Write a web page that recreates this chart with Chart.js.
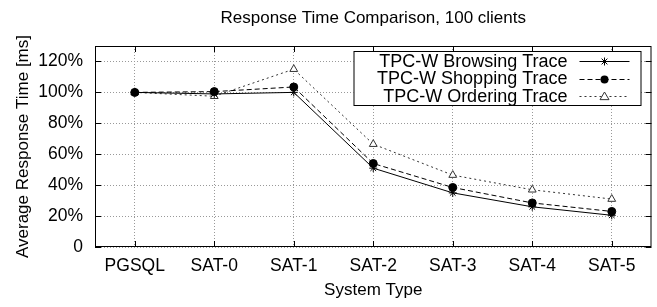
<!DOCTYPE html>
<html>
<head>
<meta charset="utf-8">
<script src="https://cdn.jsdelivr.net/npm/chart.js@4.4.0/dist/chart.umd.min.js"></script>
<style>
  html, body { margin: 0; padding: 0; background: #fff; }
  #wrap { width: 657px; height: 307px; }
</style>
</head>
<body>
<div id="wrap"><canvas id="myChart" width="657" height="307"></canvas></div>
<script>
// values (percent of PGSQL response time)
var systems  = ['PGSQL', 'SAT-0', 'SAT-1', 'SAT-2', 'SAT-3', 'SAT-4', 'SAT-5'];
var browsing = [100, 99, 100, 51, 35, 26, 20.5];
var shopping = [100, 100.5, 103.5, 54, 38.5, 28.5, 23];
var ordering = [100, 97.5, 115, 66.5, 46.5, 37, 31];
var chartTitle = 'Response Time Comparison, 100 clients';

var FONT = 'Liberation Sans, Arial, Helvetica, sans-serif';

// draw a marker like gnuplot does
function marker(ctx, style, x, y, r) {
    ctx.save();
    ctx.setLineDash([]);
    ctx.beginPath();
    if (style == 'star') {
        ctx.moveTo(x - r, y); ctx.lineTo(x + r, y);
        ctx.moveTo(x, y - r); ctx.lineTo(x, y + r);
        var d = r * 0.72;
        ctx.moveTo(x - d, y - d); ctx.lineTo(x + d, y + d);
        ctx.moveTo(x - d, y + d); ctx.lineTo(x + d, y - d);
        ctx.stroke();
    } else if (style == 'circle') {
        ctx.arc(x, y, r, 0, Math.PI * 2);
        ctx.fill();
    } else {
        ctx.moveTo(x, y - r);
        ctx.lineTo(x + r, y + r * 0.7);
        ctx.lineTo(x - r, y + r * 0.7);
        ctx.closePath();
        ctx.fillStyle = '#fff';
        ctx.fill();
        ctx.stroke();
    }
    ctx.restore();
}

// frame, inward tick marks, title over the plot and the boxed legend
var gnuplotLook = {
    id: 'gnuplotLook',
    afterDatasetsDraw: function(chart) {
        var ctx = chart.ctx;
        var a = chart.chartArea;
        var xs = chart.scales.x, ys = chart.scales.y;
        ctx.save();
        ctx.strokeStyle = '#000';
        ctx.lineWidth = 1;
        ctx.setLineDash([]);
        ctx.strokeRect(a.left + 0.5, a.top + 0.5, a.right - a.left - 1, a.bottom - a.top - 1);
        ctx.beginPath();
        for (var i = 0; i < systems.length; i++) {
            var px = Math.round(xs.getPixelForValue(i)) + 0.5;
            ctx.moveTo(px, a.bottom); ctx.lineTo(px, a.bottom - 6);
            ctx.moveTo(px, a.top); ctx.lineTo(px, a.top + 6);
        }
        ys.ticks.forEach(function(t) {
            var py = Math.round(ys.getPixelForValue(t.value)) + 0.5;
            ctx.moveTo(a.left, py); ctx.lineTo(a.left + 6, py);
            ctx.moveTo(a.right, py); ctx.lineTo(a.right - 6, py);
        });
        ctx.stroke();

        // title, centred over the plot like gnuplot
        ctx.fillStyle = '#000';
        ctx.font = '17px ' + FONT;
        ctx.textAlign = 'center';
        ctx.textBaseline = 'middle';
        ctx.fillText(chartTitle, (a.left + a.right) / 2, 18);

        // legend box
        var sets = chart.data.datasets;
        var rowH = 17.5;
        var boxR = a.right - 11, boxT = a.top + 5;
        var boxL = boxR - 287, boxB = boxT + 54;
        ctx.fillStyle = '#fff';
        ctx.fillRect(boxL, boxT, boxR - boxL, boxB - boxT);
        ctx.strokeRect(boxL + 0.5, boxT + 0.5, boxR - boxL, boxB - boxT);
        ctx.font = '18px ' + FONT;
        ctx.textAlign = 'right';
        ctx.textBaseline = 'middle';
        for (var k = 0; k < sets.length; k++) {
            var ds = sets[k];
            var cy = boxT + 10 + k * rowH;
            ctx.fillStyle = '#000';
            ctx.fillText(ds.label, boxR - 73, cy + 1);
            ctx.strokeStyle = ds.borderColor;
            ctx.fillStyle = ds.borderColor;
            ctx.setLineDash(ds.borderDash || []);
            ctx.beginPath();
            ctx.moveTo(boxR - 61, Math.round(cy) + 0.5);
            ctx.lineTo(boxR - 11, Math.round(cy) + 0.5);
            ctx.stroke();
            marker(ctx, ds.pointStyle, boxR - 36, Math.round(cy) + 0.5, ds.pointRadius);
        }
        ctx.restore();
    }
};

var bieudo = new Chart(document.getElementById('myChart'), {
    type: 'line',
    data: {
        labels: systems,
        datasets: [{
            label: 'TPC-W Browsing Trace',
            data: browsing,
            borderColor: '#000',
            backgroundColor: '#000',
            borderWidth: 1,
            pointStyle: 'star',
            pointRadius: 4,
            pointBorderWidth: 1,
            fill: false
        }, {
            label: 'TPC-W Shopping Trace',
            data: shopping,
            borderColor: '#000',
            backgroundColor: '#000',
            borderWidth: 1,
            borderDash: [5, 3],
            pointStyle: 'circle',
            pointRadius: 4,
            pointBorderWidth: 1,
            fill: false
        }, {
            label: 'TPC-W Ordering Trace',
            data: ordering,
            borderColor: '#333',
            backgroundColor: '#fff',
            borderWidth: 1,
            borderDash: [2, 3],
            pointStyle: 'triangle',
            pointRadius: 4.5,
            pointBorderWidth: 1,
            fill: false
        }]
    },
    options: {
        responsive: false,
        animation: false,
        layout: { padding: { left: 0, right: 4, top: 46, bottom: 0 } },
        plugins: {
            legend: { display: false },
            tooltip: { enabled: false },
            title: { display: false }
        },
        scales: {
            x: {
                offset: true,
                afterFit: function(s) { s.height = 60; },
                grid: { offset: false, drawTicks: false, color: '#999', lineWidth: 1 },
                border: { display: false, dash: [1, 2] },
                ticks: { color: '#000', padding: 9, font: { family: FONT, size: 17.5 } },
                title: {
                    display: true,
                    text: 'System Type',
                    color: '#000',
                    font: { family: FONT, size: 17 },
                    padding: { top: 0, bottom: 6 }
                }
            },
            y: {
                min: 0,
                max: 130,
                afterFit: function(s) { s.width = 95; },
                afterBuildTicks: function(s) {
                    s.ticks = [0, 20, 40, 60, 80, 100, 120].map(function(v) { return { value: v }; });
                },
                grid: { drawTicks: false, color: '#999', lineWidth: 1 },
                border: { display: false, dash: [1, 2] },
                ticks: {
                    color: '#000',
                    padding: 12,
                    font: { family: FONT, size: 17.5 },
                    callback: function(v) { return v == 0 ? '0' : v + '%'; }
                },
                title: {
                    display: true,
                    text: 'Average Response Time [ms]',
                    color: '#000',
                    font: { family: FONT, size: 17 },
                    padding: { top: 13, bottom: 0 }
                }
            }
        }
    },
    plugins: [gnuplotLook]
});
</script>
</body>
</html>
